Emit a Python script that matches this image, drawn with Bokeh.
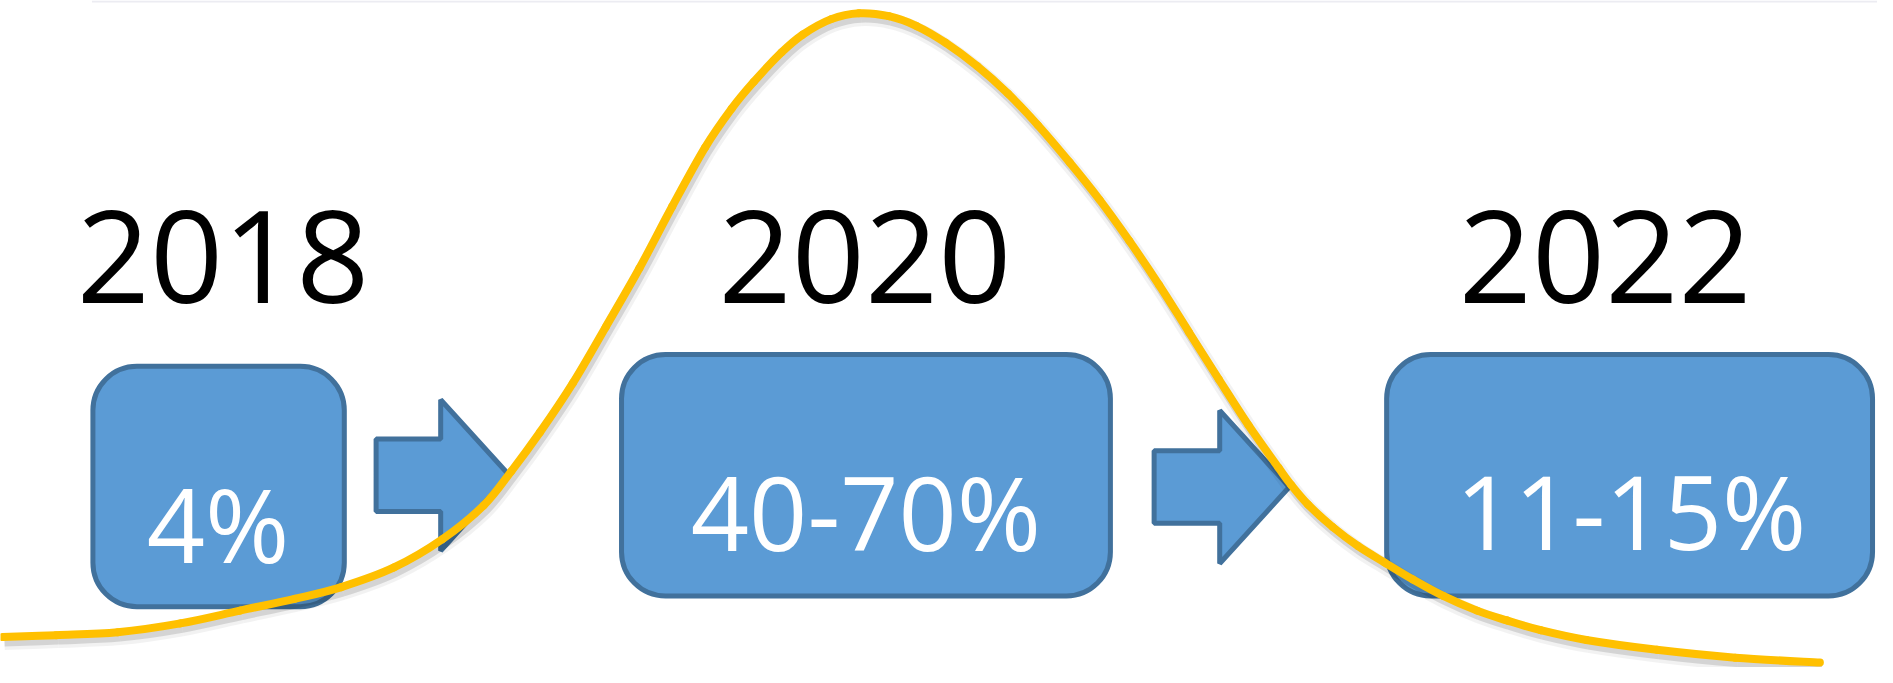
from bokeh.plotting import figure
from bokeh.models import Range1d, ColumnDataSource
from bokeh.embed import file_html
from bokeh.resources import INLINE
from bokeh.core.properties import value

# ---------------- data ----------------
years = ["2018", "2020", "2022"]
shares = ["4%", "40-70%", "11-15%"]

# traced bell-shaped adoption curve (reference pixel space, y grows downward)
curve_x = [6, 60, 122, 185, 245, 300, 347, 400, 449, 490, 518, 547, 580, 613, 647,
           680, 713, 740, 762, 790, 811, 840, 868, 898, 926, 955, 987, 1018, 1048,
           1080, 1110, 1140, 1170, 1200, 1230, 1260, 1290, 1303, 1320, 1345, 1370,
           1397, 1425, 1456, 1490, 1520, 1554, 1600, 1671, 1750, 1835]
curve_y = [649, 647, 644, 635, 622, 610, 598, 578, 549, 515, 480, 440, 390, 333, 273,
           210, 150, 110, 83, 53, 35, 19, 13, 16, 26, 43, 67, 95, 127,
           165, 203, 245, 290, 338, 386, 433, 476, 494, 514, 537, 556,
           573, 590, 607, 622, 632, 642, 652, 662, 670, 675]

# ---------------- layout ----------------
W, H = 1877, 667
box_left = [97, 629, 1399]
box_right = [350, 1121, 1888]
box_top = [373, 361, 361]
box_bottom = [618, 607, 607]
share_x = [223, 875, 1645]
share_base = [533, 521, 520]
year_x = [228, 874, 1619]
year_base = [262, 262, 262]

# arrows: left, head base, tip, centre y, shaft half height, head half height
arrow_specs = [(382, 447, 516, 484, 37, 77), (1165, 1231, 1301, 496, 37, 78)]

FILL = "#5B9BD5"
EDGE = "#41719C"
GOLD = "#FFC000"
FONT = "Open Sans"

p = figure(width=W, height=H, output_backend="svg", toolbar_location=None,
           x_range=Range1d(4, 1893), y_range=Range1d(680, 0),
           min_border=0, tools="")
p.axis.visible = False
p.grid.visible = False
p.outline_line_color = None
p.background_fill_color = "white"
p.border_fill_color = "white"

# faint top rule
p.segment(x0=[96], y0=[1], x1=[1893], y1=[1], line_color="#ECECF2", line_width=2)

# rounded boxes
boxes = ColumnDataSource(dict(left=box_left, right=box_right, top=box_top, bottom=box_bottom))
p.quad(left="left", right="right", top="top", bottom="bottom", source=boxes,
       fill_color=FILL, line_color=EDGE, line_width=5, border_radius=44)

# block arrows
axs, ays = [], []
for (l, hb, tip, cy, sh, hh) in arrow_specs:
    axs.append([l, hb, hb, tip, hb, hb, l])
    ays.append([cy - sh, cy - sh, cy - hh, cy, cy + hh, cy + sh, cy + sh])
p.patches(axs, ays, fill_color=FILL, line_color=EDGE, line_width=5)

# smooth curve through the traced points (Catmull-Rom -> cubic Bezier segments)
def bezier_segments(xs, ys, dx=0.0, dy=0.0):
    n = len(xs)
    seg = dict(x0=[], y0=[], x1=[], y1=[], cx0=[], cy0=[], cx1=[], cy1=[])
    for i in range(n - 1):
        xm, ym = (xs[i - 1], ys[i - 1]) if i > 0 else (xs[i], ys[i])
        xp, yp = (xs[i + 2], ys[i + 2]) if i + 2 < n else (xs[i + 1], ys[i + 1])
        seg["x0"].append(xs[i] + dx); seg["y0"].append(ys[i] + dy)
        seg["x1"].append(xs[i + 1] + dx); seg["y1"].append(ys[i + 1] + dy)
        seg["cx0"].append(xs[i] + (xs[i + 1] - xm) / 6 + dx)
        seg["cy0"].append(ys[i] + (ys[i + 1] - ym) / 6 + dy)
        seg["cx1"].append(xs[i + 1] - (xp - xs[i]) / 6 + dx)
        seg["cy1"].append(ys[i + 1] - (yp - ys[i]) / 6 + dy)
    return ColumnDataSource(seg)

bz = dict(x0="x0", y0="y0", x1="x1", y1="y1", cx0="cx0", cy0="cy0", cx1="cx1", cy1="cy1")
shadow = bezier_segments(curve_x, curve_y, 2, 5)
p.bezier(source=shadow, line_color="black", line_alpha=0.05, line_width=16, **bz)
p.bezier(source=shadow, line_color="black", line_alpha=0.12, line_width=9, **bz)
p.bezier(source=bezier_segments(curve_x, curve_y), line_color=GOLD, line_width=8,
         line_cap="round", **bz)

# texts
p.text(x=year_x, y=year_base, text=years, text_font=value(FONT), text_font_size="128px",
       text_color="black", text_align="center", text_baseline="alphabetic")
p.text(x=share_x, y=share_base, text=shares, text_font=value(FONT), text_font_size="102px",
       text_color="white", text_align="center", text_baseline="alphabetic")

open("out.html", "w").write(file_html(p, INLINE))
